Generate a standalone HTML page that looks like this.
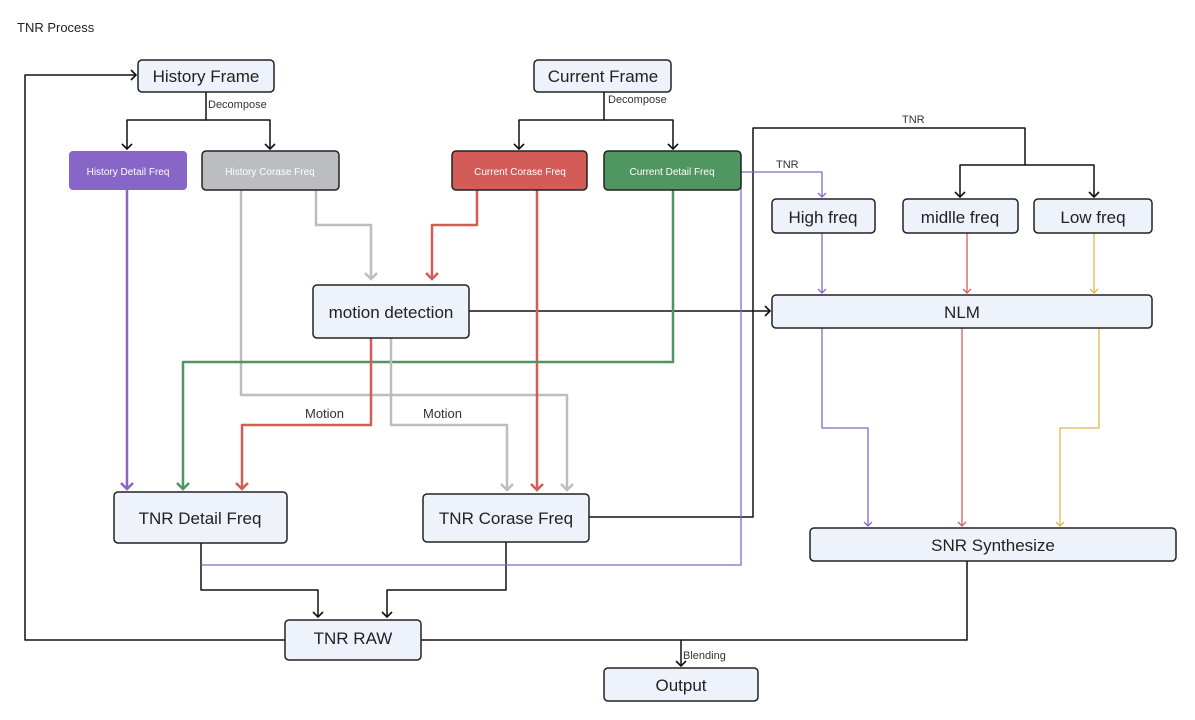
<!DOCTYPE html>
<html><head><meta charset="utf-8"><style>
body{margin:0;background:#fff}
svg{display:block;font-family:"Liberation Sans",sans-serif}
</style></head><body>
<svg width="1195" height="720" viewBox="0 0 1195 720" xmlns="http://www.w3.org/2000/svg">
<defs>
<marker id="ak" markerWidth="12" markerHeight="12" refX="6" refY="6" orient="auto" markerUnits="userSpaceOnUse"><path d="M1,1 L6,6 L1,11" fill="none" stroke="#111" stroke-width="1.6"/></marker>
<marker id="ap" markerWidth="14" markerHeight="14" refX="7" refY="7" orient="auto" markerUnits="userSpaceOnUse"><path d="M1,1 L7,7 L1,13" fill="none" stroke="#8766c8" stroke-width="2.5"/></marker>
<marker id="ar" markerWidth="14" markerHeight="14" refX="7" refY="7" orient="auto" markerUnits="userSpaceOnUse"><path d="M1,1 L7,7 L1,13" fill="none" stroke="#d35c58" stroke-width="2.5"/></marker>
<marker id="ag" markerWidth="14" markerHeight="14" refX="7" refY="7" orient="auto" markerUnits="userSpaceOnUse"><path d="M1,1 L7,7 L1,13" fill="none" stroke="#4f9660" stroke-width="2.5"/></marker>
<marker id="ay" markerWidth="14" markerHeight="14" refX="7" refY="7" orient="auto" markerUnits="userSpaceOnUse"><path d="M1,1 L7,7 L1,13" fill="none" stroke="#bbbdc0" stroke-width="2.5"/></marker>
<marker id="ap1" markerWidth="10" markerHeight="10" refX="5" refY="5" orient="auto" markerUnits="userSpaceOnUse"><path d="M1,1 L5,5 L1,9" fill="none" stroke="#8766c8" stroke-width="1.3"/></marker>
<marker id="ar1" markerWidth="10" markerHeight="10" refX="5" refY="5" orient="auto" markerUnits="userSpaceOnUse"><path d="M1,1 L5,5 L1,9" fill="none" stroke="#d35c58" stroke-width="1.3"/></marker>
<marker id="ay1" markerWidth="10" markerHeight="10" refX="5" refY="5" orient="auto" markerUnits="userSpaceOnUse"><path d="M1,1 L5,5 L1,9" fill="none" stroke="#e0b84a" stroke-width="1.3"/></marker>
</defs>
<text x="17" y="32" font-size="13" fill="#222">TNR  Process</text>

<g fill="none" stroke-linejoin="round">
<!-- black -->
<path d="M285,640 H25 V75 H136" stroke="#111" stroke-width="1.5" marker-end="url(#ak)"/>
<path d="M206,92 V120 H127 V149" stroke="#111" stroke-width="1.5" marker-end="url(#ak)"/>
<path d="M206,120 H270 V149" stroke="#111" stroke-width="1.5" marker-end="url(#ak)"/>
<path d="M604,92 V120 H519 V149" stroke="#111" stroke-width="1.5" marker-end="url(#ak)"/>
<path d="M604,120 H673 V149" stroke="#111" stroke-width="1.5" marker-end="url(#ak)"/>
<path d="M589,517 H753 V128 H1025 V165 H960 V197" stroke="#111" stroke-width="1.5" marker-end="url(#ak)"/>
<path d="M1025,165 H1094 V197" stroke="#111" stroke-width="1.5" marker-end="url(#ak)"/>
<path d="M469,311 H770" stroke="#111" stroke-width="1.5" marker-end="url(#ak)"/>
<path d="M201,543 V590 H318 V617" stroke="#111" stroke-width="1.5" marker-end="url(#ak)"/>
<path d="M506,542 V590 H387 V617" stroke="#111" stroke-width="1.5" marker-end="url(#ak)"/>
<path d="M967,561 V640 H681 V666" stroke="#111" stroke-width="1.5" marker-end="url(#ak)"/>
<path d="M421,640 H681" stroke="#111" stroke-width="1.5"/>
<!-- purple thin -->
<path d="M201,565 H741 V172 H822 V197" stroke="#8766c8" stroke-width="1.3" marker-end="url(#ap1)"/>
<path d="M822,233 V293" stroke="#8766c8" stroke-width="1.3" marker-end="url(#ap1)"/>
<path d="M967,233 V293" stroke="#d35c58" stroke-width="1.3" marker-end="url(#ar1)"/>
<path d="M1094,233 V293" stroke="#e0b84a" stroke-width="1.3" marker-end="url(#ay1)"/>
<path d="M822,328 V428 H868 V526" stroke="#8766c8" stroke-width="1.3" marker-end="url(#ap1)"/>
<path d="M962,328 V526" stroke="#d35c58" stroke-width="1.3" marker-end="url(#ar1)"/>
<path d="M1099,328 V428 H1060 V526" stroke="#e0b84a" stroke-width="1.3" marker-end="url(#ay1)"/>
<!-- thick colored -->
<path d="M127,190 V489" stroke="#8766c8" stroke-width="2.5" marker-end="url(#ap)"/>
<path d="M316,190 V225 H371 V279" stroke="#bbbdc0" stroke-width="2.5" marker-end="url(#ay)"/>
<path d="M241,190 V395 H567 V490" stroke="#bbbdc0" stroke-width="2.5" marker-end="url(#ay)"/>
<path d="M477,190 V225 H432 V279" stroke="#d35c58" stroke-width="2.5" marker-end="url(#ar)"/>
<path d="M537,190 V490" stroke="#d35c58" stroke-width="2.5" marker-end="url(#ar)"/>
<path d="M673,190 V362 H183 V489" stroke="#4f9660" stroke-width="2.5" marker-end="url(#ag)"/>
<path d="M371,338 V425 H242 V489" stroke="#d35c58" stroke-width="2.5" marker-end="url(#ar)"/>
<path d="M391,338 V425 H507 V490" stroke="#bbbdc0" stroke-width="2.5" marker-end="url(#ay)"/>
</g>

<g font-size="11" fill="#333">
<text x="208" y="108">Decompose</text>
<text x="608" y="103">Decompose</text>
<text x="902" y="123">TNR</text>
<text x="776" y="168">TNR</text>
<text x="683" y="659">Blending</text>
</g>
<g font-size="13" fill="#333">
<text x="305" y="418">Motion</text>
<text x="423" y="418">Motion</text>
</g>

<g stroke="#222" stroke-width="1.5" fill="#eef2fb">
<rect x="138" y="60" width="136" height="32" rx="4"/>
<rect x="534" y="60" width="137" height="32" rx="4"/>
<rect x="772" y="199" width="103" height="34" rx="4"/>
<rect x="903" y="199" width="115" height="34" rx="4"/>
<rect x="1034" y="199" width="118" height="34" rx="4"/>
<rect x="772" y="295" width="380" height="33" rx="4"/>
<rect x="313" y="285" width="156" height="53" rx="4"/>
<rect x="114" y="492" width="173" height="51" rx="4"/>
<rect x="423" y="494" width="166" height="48" rx="4"/>
<rect x="810" y="528" width="366" height="33" rx="4"/>
<rect x="285" y="620" width="136" height="40" rx="4"/>
<rect x="604" y="668" width="154" height="33" rx="4"/>
</g>
<rect x="69" y="151" width="118" height="39" rx="4" fill="#8766c8"/>
<rect x="202" y="151" width="137" height="39" rx="4" fill="#bbbdc0" stroke="#222" stroke-width="1.5"/>
<rect x="452" y="151" width="135" height="39" rx="4" fill="#d35c58" stroke="#222" stroke-width="1.5"/>
<rect x="604" y="151" width="137" height="39" rx="4" fill="#4f9660" stroke="#222" stroke-width="1.5"/>

<g font-size="10" fill="#fff" text-anchor="middle">
<text x="128" y="175">History  Detail Freq</text>
<text x="270" y="175">History Corase Freq</text>
<text x="520" y="175">Current Corase Freq</text>
<text x="672" y="175">Current  Detail Freq</text>
</g>
<g font-size="17" fill="#222" text-anchor="middle">
<text x="206" y="82">History Frame</text>
<text x="603" y="82">Current Frame</text>
<text x="823" y="223">High freq</text>
<text x="960" y="223">midlle freq</text>
<text x="1093" y="223">Low freq</text>
<text x="962" y="318">NLM</text>
<text x="391" y="318">motion detection</text>
<text x="200" y="524">TNR Detail Freq</text>
<text x="506" y="524">TNR  Corase Freq</text>
<text x="993" y="551">SNR Synthesize</text>
<text x="353" y="644">TNR RAW</text>
<text x="681" y="691">Output</text>
</g>
</svg>
</body></html>
